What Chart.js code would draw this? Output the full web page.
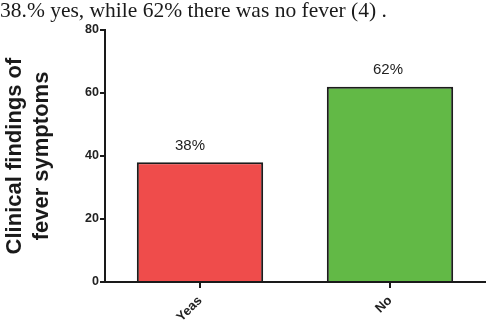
<!DOCTYPE html>
<html>
<head>
<meta charset="utf-8">
<script src="https://cdn.jsdelivr.net/npm/chart.js@4/dist/chart.umd.min.js"></script>
<style>
  html, body { margin: 0; padding: 0; background: #fff; }
  #wrap { position: relative; width: 486px; height: 324px; overflow: hidden; }
  #caption { position: absolute; left: 0; top: -2px; font-family: "Liberation Serif", "DejaVu Serif", serif; font-size: 21.5px; color: #1a1a1a; white-space: nowrap; line-height: 24px; }
  canvas { position: absolute; left: 0; top: 0; }
</style>
</head>
<body>
<div id="wrap">
  <canvas id="c" width="486" height="324"></canvas>
  <div id="caption">38.% yes, while 62% there was no fever (4) .</div>
</div>
<script>
const categories = ['Yeas', 'No'];
const values = [38, 62];
const valueLabels = ['38%', '62%'];
const yTicks = [0, 20, 40, 60, 80];

const labelPlugin = {
  id: 'barLabels',
  afterDatasetsDraw(chart, args, opts) {
    const ctx = chart.ctx;
    const meta = chart.getDatasetMeta(0);
    ctx.save();
    ctx.font = '15px "Liberation Sans", Arial, sans-serif';
    ctx.fillStyle = '#222';
    ctx.textAlign = 'center';
    ctx.textBaseline = 'bottom';
    meta.data.forEach((bar, i) => {
      const dx = (opts.dx || [])[i] || 0;
      ctx.fillText(valueLabels[i], bar.x + dx, bar.y - 9);
    });
    // category tick marks below the x axis, at category centres
    const xs = chart.scales.x;
    ctx.strokeStyle = '#1a1a1a';
    ctx.lineWidth = 2;
    categories.forEach((c, i) => {
      const px = Math.round(xs.getPixelForValue(i));
      ctx.beginPath();
      ctx.moveTo(px, xs.top);
      ctx.lineTo(px, xs.top + 6);
      ctx.stroke();
    });
    ctx.restore();
  }
};

new Chart(document.getElementById('c'), {
  type: 'bar',
  data: {
    labels: categories,
    datasets: [{
      data: values,
      backgroundColor: ['#ef4c4b', '#62b946'],
      borderColor: '#1c1c1c',
      borderWidth: 2,
      borderSkipped: 'bottom',
      barPercentage: 0.665,
      categoryPercentage: 1.0
    }]
  },
  options: {
    responsive: false,
    animation: false,
    events: [],
    layout: { padding: { top: 30, right: 1, left: 0, bottom: 0 } },
    plugins: {
      legend: { display: false },
      tooltip: { enabled: false },
      barLabels: { dx: [-10, -2] }
    },
    scales: {
      x: {
        grid: { display: true, offset: false, drawOnChartArea: false, drawTicks: true, tickLength: 6, color: '#1a1a1a', lineWidth: 2 },
        border: { display: true, color: '#1a1a1a', width: 2 },
        ticks: {
          color: '#222',
          font: { family: '"Liberation Sans", Arial, sans-serif', size: 13, weight: 'bold' },
          minRotation: 45, maxRotation: 45, padding: 5
        },
        afterFit(scale) { scale.height = 42; }
      },
      y: {
        min: 0, max: 80,
        afterBuildTicks(scale) { scale.ticks = yTicks.map(v => ({ value: v })); },
        grid: { display: true, drawOnChartArea: false, tickLength: 5, color: '#1a1a1a', lineWidth: 2 },
        border: { display: true, color: '#1a1a1a', width: 2 },
        ticks: {
          color: '#222',
          font: { family: '"Liberation Sans", Arial, sans-serif', size: 12.5, weight: 'bold' },
          padding: 1
        },
        title: {
          display: true,
          text: ['Clinical findings of', 'fever symptoms'],
          color: '#1a1a1a',
          font: { family: '"Liberation Sans", Arial, sans-serif', size: 22, weight: 'bold', lineHeight: 1.22 },
          padding: { top: 2, bottom: 0 }
        },
        afterFit(scale) { scale.width = 105; }
      }
    }
  },
  plugins: [labelPlugin]
});
</script>
</body>
</html>
